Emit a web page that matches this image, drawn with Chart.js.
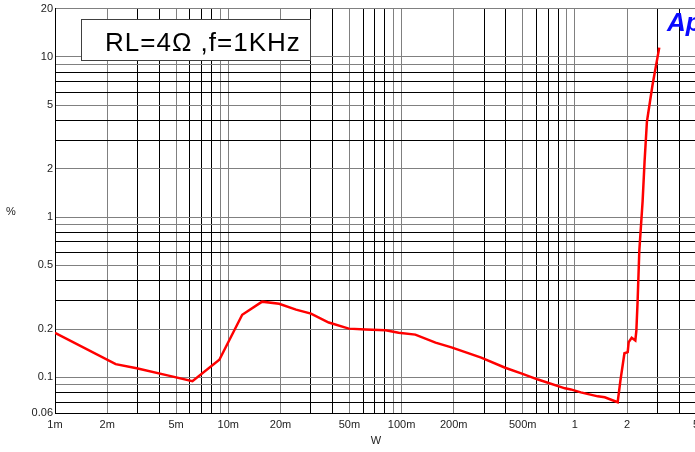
<!DOCTYPE html>
<html>
<head>
<meta charset="utf-8">
<script src="https://cdn.jsdelivr.net/npm/chart.js@4.4.0/dist/chart.umd.min.js"></script>
<style>
  html, body { margin: 0; padding: 0; background: #fff; overflow: hidden; }
  #wrap { width: 710px; height: 452px; }
</style>
</head>
<body>
<div id="wrap"><canvas id="thd" width="710" height="452"></canvas></div>
<script>
// THD+N vs output power, RL=4 ohm, f=1kHz
const power = [0.001, 0.00224, 0.00296, 0.00446, 0.00621, 0.00888, 0.01203, 0.01568, 0.01964, 0.0246,
               0.030, 0.038, 0.0496, 0.0621, 0.0809, 0.0961, 0.120, 0.157, 0.194, 0.288,
               0.396, 0.490, 0.613, 0.876, 0.948, 1.082, 1.356, 1.487, 1.766, 1.832,
               1.932, 2.018, 2.044, 2.127, 2.233, 2.264, 2.302, 2.354, 2.460, 2.525,
               2.605, 2.807, 3.069];
const thd   = [0.19, 0.121, 0.114, 0.103, 0.0948, 0.129, 0.246, 0.297, 0.288, 0.265,
               0.250, 0.220, 0.2016, 0.199, 0.197, 0.190, 0.185, 0.165, 0.154, 0.133,
               0.115, 0.106, 0.097, 0.0855, 0.0842, 0.0807, 0.0762, 0.0752, 0.070, 0.0958,
               0.1416, 0.144, 0.166, 0.177, 0.170, 0.196, 0.301, 0.615, 1.26, 2.23,
               3.95, 6.70, 11.42];

const xLabelVals = [0.001, 0.002, 0.005, 0.01, 0.02, 0.05, 0.1, 0.2, 0.5, 1, 2, 5];
const xLabelTxt  = ['1m', '2m', '5m', '10m', '20m', '50m', '100m', '200m', '500m', '1', '2', '5'];
const yLabelVals = [0.06, 0.1, 0.2, 0.5, 1, 2, 5, 10, 20];
const yLabelTxt  = ['0.06', '0.1', '0.2', '0.5', '1', '2', '5', '10', '20'];

// grid lines at every 1..9 of each decade
function logGrid(min, max) {
  const out = [];
  for (let e = Math.floor(Math.log10(min)); e <= Math.ceil(Math.log10(max)); e++) {
    for (let s = 1; s <= 9; s++) {
      const v = +(s * Math.pow(10, e)).toPrecision(6);
      if (v >= min - 1e-12 && v <= max + 1e-12) out.push(v);
    }
  }
  return out;
}

function sig(v) {
  const e = Math.floor(Math.log10(v) + 1e-9);
  return Math.round(v / Math.pow(10, e));
}
function gridColor(v) {
  return [1, 2, 5, 9].includes(sig(v)) ? '#808080' : '#000000';
}
function findLabel(vals, txt, v) {
  const i = vals.findIndex(a => Math.abs(a - v) / a < 1e-6);
  return i >= 0 ? txt[i] : '';
}

const extras = {
  id: 'extras',
  afterDraw(chart) {
    const c = chart.ctx;
    c.save();
    // header box
    c.fillStyle = '#ffffff';
    c.fillRect(81, 19, 229, 41);
    c.strokeStyle = '#404040';
    c.lineWidth = 1;
    c.strokeRect(81.5, 19.5, 229, 41);
    c.fillStyle = '#000';
    c.font = '26px "Liberation Sans", Arial, sans-serif';
    c.letterSpacing = '1px';
    c.textBaseline = 'alphabetic';
    c.textAlign = 'left';
    c.fillText('RL=4\u03A9 ,f=1KHz', 105, 51);
    c.letterSpacing = '0px';
    // Ap logo
    c.fillStyle = '#0a0aff';
    c.font = 'italic bold 26px "Liberation Sans", Arial, sans-serif';
    c.fillText('Ap', 667, 31);
    // axis titles
    c.fillStyle = '#222';
    c.font = '11px "Liberation Sans", Arial, sans-serif';
    c.textAlign = 'center';
    c.textBaseline = 'middle';
    c.fillText('%', 11, 212);
    c.fillText('W', 376, 441);
    c.restore();
  }
};

new Chart(document.getElementById('thd'), {
  type: 'scatter',
  data: {
    datasets: [{
      data: power.map((p, i) => ({ x: p, y: thd[i] })),
      showLine: true,
      borderColor: '#ff0000',
      borderWidth: 2.5,
      pointRadius: 0,
      tension: 0
    }]
  },
  options: {
    responsive: false,
    animation: false,
    devicePixelRatio: 1,
    layout: { padding: { left: 0, right: 14, top: 8, bottom: 0 } },
    plugins: { legend: { display: false }, tooltip: { enabled: false } },
    scales: {
      x: {
        type: 'logarithmic',
        min: 0.001,
        max: 5,
        afterBuildTicks: s => { s.ticks = logGrid(0.001, 5).map(v => ({ value: v })); },
        afterFit: s => { s.height = 39; },
        grid: {
          drawTicks: false,
          lineWidth: 1,
          color: ctx => ctx.tick ? gridColor(ctx.tick.value) : '#000'
        },
        border: { display: true, color: '#000', width: 1 },
        ticks: {
          autoSkip: false,
          maxRotation: 0,
          padding: 5,
          color: '#222',
          font: { family: '"Liberation Sans", Arial, sans-serif', size: 11 },
          callback: v => findLabel(xLabelVals, xLabelTxt, v)
        }
      },
      y: {
        type: 'logarithmic',
        min: 0.06,
        max: 20,
        afterBuildTicks: s => { s.ticks = logGrid(0.06, 20).map(v => ({ value: v })); },
        afterFit: s => { s.width = 55; },
        grid: {
          drawTicks: false,
          lineWidth: 1,
          color: ctx => ctx.tick ? gridColor(ctx.tick.value) : '#000'
        },
        border: { display: true, color: '#000', width: 1 },
        ticks: {
          autoSkip: false,
          padding: 2,
          color: '#222',
          font: { family: '"Liberation Sans", Arial, sans-serif', size: 11 },
          callback: v => findLabel(yLabelVals, yLabelTxt, v)
        }
      }
    }
  },
  plugins: [extras]
});
</script>
</body>
</html>
